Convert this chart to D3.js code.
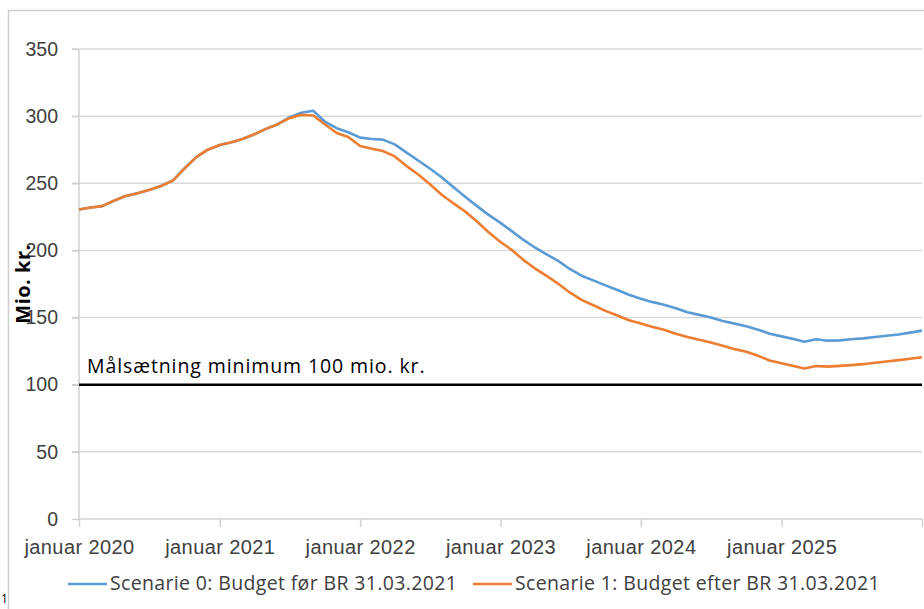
<!DOCTYPE html>
<html>
<head>
<meta charset="utf-8">
<script src="https://cdn.jsdelivr.net/npm/d3@7"></script>
<style>
  body { margin: 0; background: #fff; }
  svg { display: block; font-family: "Open Sans", sans-serif; }
  .grid line { stroke: #d9d9d9; stroke-width: 1.5; }
  .axis path, .axis line { stroke: #d0d0d0; stroke-width: 1.5; }
  .axis text { fill: #404040; }
</style>
</head>
<body>
<div id="chart"></div>
<script>
// monthly values, januar 2020 .. januar 2026
const startMonth = new Date(2020, 0, 1)
const scenario0 = [
  230.5, 232, 233, 237, 240.5, 242.5, 245, 248, 252, 261, 269.5, 275,
  278.5, 280.5, 283, 286.5, 290.5, 294, 299, 302.5, 304, 296, 291, 288,
  284, 283, 282.5, 279, 273, 267, 261, 254.5, 247, 240, 233, 226.5,
  220.5, 214, 208, 202, 197, 192, 186, 181, 177.5, 174, 170.5, 167,
  164, 161.5, 159.5, 157, 154, 152, 150, 147.5, 145.5, 143.5, 141, 138,
  136, 134, 132, 133.8, 132.8, 133, 133.8, 134.5, 135.5, 136.5, 137.4, 138.8,
  140.3
]
const scenario1 = [
  230.5, 232, 233, 237, 240.5, 242.5, 245, 248, 252, 261, 269.5, 275,
  278.5, 280.5, 283, 286.5, 290.5, 294, 298.5, 301, 300.5, 294, 287.5, 284.5,
  277.7, 275.7, 274, 270, 263, 256.5, 249.5, 241.5, 235, 229, 221.5, 213.5,
  206.3, 200, 193, 186.5, 181, 175, 168.5, 163, 159, 155, 151.5, 148,
  145.5, 143, 141, 138, 135.5, 133.5, 131.5, 129, 126.5, 124.5, 121.5, 118,
  116, 114, 112, 113.9, 113.5, 114, 114.6, 115.3, 116.3, 117.3, 118.3, 119.3,
  120.5
]
const seriesNames = ['Scenarie 0: Budget før BR 31.03.2021', 'Scenarie 1: Budget efter BR 31.03.2021']
const seriesColors = ['#5b9bd5', '#ed7d31']
const yTicks = [0, 50, 100, 150, 200, 250, 300, 350]
const xTickYears = [2020, 2021, 2022, 2023, 2024, 2025, 2026]
const targetValue = 100
const targetLabel = 'Målsætning minimum 100 mio. kr.'
const yLabel = 'Mio. kr.'

const width = 924, height = 609
const margin = { left: 79, right: 2, top: 49, bottom: 90 }

const svg = d3.select('#chart').append('svg')
  .attr('width', width)
  .attr('height', height)

// outer frame (cropped on the right and bottom)
svg.append('path')
  .attr('d', `M8.5,${height} V10.5 H${width}`)
  .attr('fill', 'none')
  .attr('stroke', '#cfcfcf')
  .attr('stroke-width', 1.5)

const x = d3.scaleTime()
  .domain([startMonth, new Date(2026, 0, 1)])
  .range([margin.left, width - margin.right])
const y = d3.scaleLinear()
  .domain([0, 350])
  .range([height - margin.bottom, margin.top])

// horizontal grid
svg.append('g').attr('class', 'grid')
  .selectAll('line')
  .data(yTicks.filter(d => d > 0))
  .join('line')
  .attr('x1', margin.left - 7).attr('x2', width - margin.right)
  .attr('y1', d => y(d)).attr('y2', d => y(d))

// y axis
const yAxis = svg.append('g').attr('class', 'axis')
  .attr('transform', `translate(${margin.left},0)`)
  .call(d3.axisLeft(y).tickValues(yTicks).tickSize(7).tickPadding(14))
yAxis.select('.domain').attr('d', `M0,${y(0)} V${y(350)}`)
yAxis.selectAll('text').style('font-size', '19.5px')

// x axis
const xAxis = svg.append('g').attr('class', 'axis')
  .attr('transform', `translate(0,${y(0)})`)
  .call(d3.axisBottom(x)
    .tickValues(xTickYears.map(yr => new Date(yr, 0, 1)))
    .tickSize(8)
    .tickPadding(10)
    .tickFormat(d => d.getFullYear() < 2026 ? `januar ${d.getFullYear()}` : ''))
xAxis.select('.domain').attr('d', `M${margin.left},0 H${width - margin.right}`)
xAxis.selectAll('text')
  .style('font-size', '20px')
  .style('letter-spacing', '0.4px')
  .attr('dy', '0.85em')

// target line
svg.append('line')
  .attr('x1', margin.left).attr('x2', width - margin.right)
  .attr('y1', y(targetValue)).attr('y2', y(targetValue))
  .attr('stroke', '#000').attr('stroke-width', 2.5)
svg.append('text')
  .attr('x', 87).attr('y', y(targetValue) - 12)
  .style('font-size', '19.5px')
  .style('letter-spacing', '0.9px')
  .attr('fill', '#000')
  .text(targetLabel)

// series
const line = d3.line()
  .x((d, i) => x(d3.timeMonth.offset(startMonth, i)))
  .y(d => y(d))
;[scenario0, scenario1].forEach((s, k) => {
  svg.append('path')
    .datum(s)
    .attr('fill', 'none')
    .attr('stroke', seriesColors[k])
    .attr('stroke-width', 2.6)
    .attr('stroke-linejoin', 'round')
    .attr('d', line)
})

// y label
svg.append('text')
  .attr('transform', 'translate(30,284) rotate(-90)')
  .attr('text-anchor', 'middle')
  .style('font-size', '20px').style('font-weight', 'bold')
  .style('letter-spacing', '0.5px')
  .attr('fill', '#000')
  .text(yLabel)

// legend
const legendX = [68, 473]
const legend = svg.append('g')
seriesNames.forEach((name, k) => {
  legend.append('line')
    .attr('x1', legendX[k]).attr('x2', legendX[k] + 39)
    .attr('y1', 584).attr('y2', 584)
    .attr('stroke', seriesColors[k]).attr('stroke-width', 2.6)
  legend.append('text')
    .attr('x', legendX[k] + 42).attr('y', 590)
    .style('font-size', '19.5px')
    .style('letter-spacing', '0.35px')
    .attr('fill', '#404040')
    .text(name)
})

// small glyph at the bottom left edge
svg.append('text')
  .attr('x', 1).attr('y', 603)
  .style('font-size', '12px').attr('fill', '#000')
  .text('1')
</script>
</body>
</html>
